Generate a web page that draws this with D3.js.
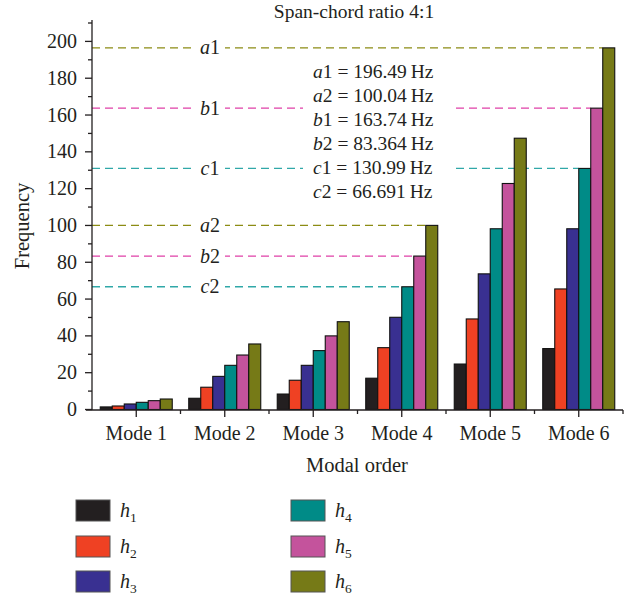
<html>
<head>
<script src="https://d3js.org/d3.v7.min.js"></script>
</head>
<body style="margin:0;background:#fff;">
<svg width="636" height="603"></svg>
<script>
// chart data
var modes = ["Mode 1", "Mode 2", "Mode 3", "Mode 4", "Mode 5", "Mode 6"];
var series = ["1", "2", "3", "4", "5", "6"];
var h1 = [1.4, 6.1, 8.4, 17.0, 24.7, 33.1];
var h2 = [1.9, 12.1, 15.9, 33.6, 49.2, 65.5];
var h3 = [3.0, 18.0, 24.0, 50.1, 73.7, 98.2];
var h4 = [3.9, 24.0, 32.0, 66.691, 98.2, 130.99];
var h5 = [4.8, 29.6, 40.0, 83.364, 122.8, 163.74];
var h6 = [5.7, 35.6, 47.7, 100.04, 147.4, 196.49];
var colors = ["#231f20", "#ef4123", "#393091", "#008b87", "#c4539c", "#767a17"];

var refNames = ["a1", "b1", "c1", "a2", "b2", "c2"];
var refValues = [196.49, 163.74, 130.99, 100.04, 83.364, 66.691];
var refText = ["196.49", "163.74", "130.99", "100.04", "83.364", "66.691"];
var refColors = ["#8c8c14", "#e040a8", "#30a8a8", "#8c8c14", "#e040a8", "#30a8a8"];
var refMode = [5, 5, 5, 3, 3, 3];   // bar group each line stops at
var refSeries = [5, 4, 3, 5, 4, 3];
var noteOrder = [0, 3, 1, 4, 2, 5];

var yTicks = [0, 20, 40, 60, 80, 100, 120, 140, 160, 180, 200];
var yMinor = [10, 30, 50, 70, 90, 110, 130, 150, 170, 190, 210];

var values = [h1, h2, h3, h4, h5, h6];
var font = "'Liberation Serif', 'DejaVu Serif', serif";
var ink = "#231f20";

var svg = d3.select("svg").style("font-family", font);

var x0 = d3.scaleBand().domain(modes).range([92, 623]).padding(0);
var x1 = d3.scaleBand().domain(series).range([8.25, 80.25]).padding(0);
var y = d3.scaleLinear().domain([0, 210]).range([409.5, 23]);

// reference dashed lines
var refs = svg.append("g");
refNames.forEach(function(n, i) {
	var xe = x0(modes[refMode[i]]) + x1(series[refSeries[i]]);
	refs.append("line")
		.attr("x1", 92).attr("x2", xe)
		.attr("y1", y(refValues[i])).attr("y2", y(refValues[i]))
		.attr("stroke", refColors[i]).attr("stroke-width", 1.3)
		.attr("stroke-dasharray", "8,5");
	refs.append("rect")
		.attr("x", 196).attr("y", y(refValues[i]) - 9)
		.attr("width", 29).attr("height", 18)
		.attr("fill", "#fff");
	var t = refs.append("text")
		.attr("x", 210).attr("y", y(refValues[i]) + 6.5)
		.attr("text-anchor", "middle")
		.attr("font-size", 20).attr("fill", ink);
	t.append("tspan").attr("font-style", "italic").text(n[0]);
	t.append("tspan").text(n[1]);
});

// note box
svg.append("rect").attr("x", 303).attr("y", 60).attr("width", 148).attr("height", 142).attr("fill", "#fff");
noteOrder.forEach(function(k, j) {
	var t = svg.append("text")
		.attr("x", 313).attr("y", 77.5 + j * 24)
		.attr("font-size", 19.5).attr("fill", ink);
	t.append("tspan").attr("font-style", "italic").text(refNames[k][0]);
	t.append("tspan").text(refNames[k][1] + " = " + refText[k] + "\u2009Hz");
});

// bars
var groups = svg.append("g").selectAll("g")
	.data(modes)
	.enter().append("g")
	.attr("transform", function(d) { return "translate(" + x0(d) + ",0)"; });

groups.selectAll("rect")
	.data(function(d, i) { return series.map(function(s, k) { return {s: s, k: k, v: values[k][i]}; }); })
	.enter().append("rect")
	.attr("x", function(d) { return x1(d.s); })
	.attr("width", x1.bandwidth())
	.attr("y", function(d) { return y(d.v); })
	.attr("height", function(d) { return y(0) - y(d.v); })
	.attr("fill", function(d) { return colors[d.k]; })
	.attr("stroke", "#111").attr("stroke-width", 1.1);

// axes
var ax = svg.append("g").attr("stroke", ink).attr("stroke-width", 1.3);
ax.append("line").attr("x1", 92).attr("x2", 92).attr("y1", 20).attr("y2", 410);
ax.append("line").attr("x1", 86).attr("x2", 623).attr("y1", 410).attr("y2", 410);
yTicks.forEach(function(v) {
	ax.append("line").attr("x1", 85).attr("x2", 92).attr("y1", y(v)).attr("y2", y(v));
	svg.append("text").attr("x", 77).attr("y", y(v) + 6.5)
		.attr("text-anchor", "end").attr("font-size", 20).attr("fill", ink).text(v);
});
yMinor.forEach(function(v) {
	ax.append("line").attr("x1", 88).attr("x2", 92).attr("y1", y(v)).attr("y2", y(v));
});
modes.forEach(function(m, i) {
	var c = x0(m) + x0.bandwidth() / 2;
	ax.append("line").attr("x1", c).attr("x2", c).attr("y1", 410).attr("y2", 417);
	ax.append("line").attr("x1", x0(m) + x0.bandwidth()).attr("x2", x0(m) + x0.bandwidth())
		.attr("y1", 410).attr("y2", 414);
	svg.append("text").attr("x", c).attr("y", 440)
		.attr("text-anchor", "middle").attr("font-size", 20).attr("fill", ink).text(m);
});

// titles
svg.append("text").attr("x", 354).attr("y", 18).attr("text-anchor", "middle")
	.attr("font-size", 19.5).attr("fill", ink).text("Span-chord ratio 4:1");
svg.append("text").attr("x", 357).attr("y", 471.5).attr("text-anchor", "middle")
	.attr("font-size", 20.5).attr("fill", ink).text("Modal order");
svg.append("text").attr("transform", "translate(29,226) rotate(-90)").attr("text-anchor", "middle")
	.attr("font-size", 20.5).attr("fill", ink).text("Frequency");

// legend
var legX = [76, 291];
var legY = [500, 536, 571];
series.forEach(function(s, k) {
	var lx = legX[Math.floor(k / 3)], ly = legY[k % 3];
	svg.append("rect").attr("x", lx).attr("y", ly).attr("width", 34).attr("height", 21)
		.attr("fill", colors[k]).attr("stroke", "#555").attr("stroke-width", 1);
	var t = svg.append("text").attr("x", lx + 44).attr("y", ly + 17)
		.attr("font-size", 20).attr("fill", ink);
	t.append("tspan").attr("font-style", "italic").text("h");
	t.append("tspan").attr("font-size", 13.5).attr("dy", 5).text(s);
});
</script>
</body>
</html>
